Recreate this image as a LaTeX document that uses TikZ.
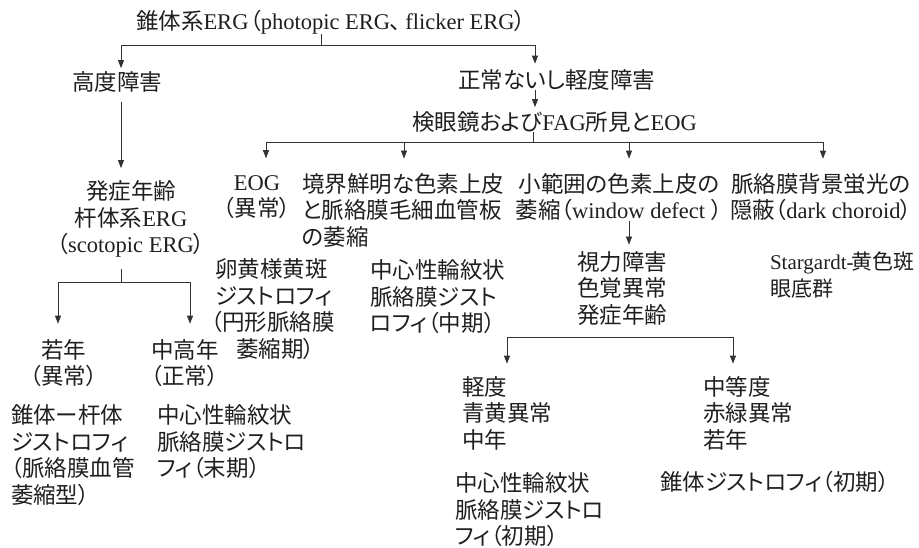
\documentclass[tikz,border=0pt]{standalone}
\usepackage{fontspec}
\setmainfont{Noto Sans CJK JP}[RawFeature=+palt]
\newfontfamily\latfont{Liberation Serif}
\newcommand\La[1]{{\latfont #1}}
\usetikzlibrary{arrows.meta}
\begin{document}
\begin{tikzpicture}[x=1pt,y=-1pt,
  txt/.style={inner sep=0pt, outer sep=0pt, font=\fontsize{22.5}{26.5}\selectfont, text=black!88},
  lbl/.style={txt, anchor=west, align=left},
  ctr/.style={txt, align=center},
  ln/.style={draw=black!80, line width=0.8pt},
  arr/.style={ln, -{Triangle[length=8pt,width=6pt]}}]
\useasboundingbox (0,0) rectangle (919,547);

% nodes
\node[lbl] (title) at (136,22) {錐体系\La{ERG}\kern1pt（\La{photopic ERG}、\kern4pt\La{flicker ERG}）};
\node[lbl] (koudo) at (72,82) {高度障害};
\node[lbl] (seijou) at (458,80) {正常ないし軽度障害};
\node[lbl] (kengan) at (412,122) {検眼鏡および\La{FAG}所見と\La{EOG}};
\node[ctr] (hassho) at (131,219) {発症年齢\\杆体系\La{ERG}\\（\La{scotopic ERG}）};
\node[ctr] (eog) at (257,197) {\La{EOG}\\（異常）};
\node[lbl] (kyoukai) at (302,210) {境界鮮明な色素上皮\\と脈絡膜毛細血管板\\の萎縮};
\node[ctr] (shohan) at (619,197) {小範囲の色素上皮の\\萎縮（\La{window defect }）};
\node[ctr] (myaku) at (821,197) {脈絡膜背景蛍光の\\隠蔽（\La{dark choroid}）};
\node[lbl] (shiryoku) at (577,288) {視力障害\\色覚異常\\発症年齢};
\node[lbl, font=\fontsize{21}{26.5}\selectfont] (starg) at (770,275) {\La{Stargardt-}\kern-2pt黄色斑\\眼底群};
\node[lbl] (ranou) at (215,309) {卵黄様黄斑\\ジストロフィ\\\hspace*{-4pt}（円形脈絡膜\\\hspace*{21pt}萎縮期）};
\node[lbl] (chushinA) at (370,297) {中心性輪紋状\\脈絡膜ジスト\\ロフィ（中期）};
\node[ctr] (jakunen) at (64,363) {若年\\（異常）};
\node[lbl] (chuukou) at (151,363) {中高年\\（正常）};
\node[lbl] (suitaiA) at (11,455) {錐体ー杆体\\ジストロフィ\\（脈絡膜血管\\萎縮型）};
\node[lbl] (chushinB) at (157,442) {中心性輪紋状\\脈絡膜ジストロ\\フィ（末期）};
\node[lbl] (keido) at (462,413) {軽度\\青黄異常\\中年};
\node[lbl] (chuutou) at (703,413) {中等度\\赤緑異常\\若年};
\node[lbl] (chushinC) at (455,510) {中心性輪紋状\\脈絡膜ジストロ\\フィ（初期）};
\node[lbl] (suitaiB) at (660,482) {錐体ジストロフィ（初期）};

% junctions and column positions
\coordinate (hT) at (321,45);
\coordinate (hK) at (533,142);
\coordinate (hH) at (121,282);
\coordinate (hS) at (620,337);
\coordinate (xM) at (535,0);
\coordinate (xE) at (266,0);
\coordinate (xB) at (404,0);
\coordinate (xW) at (629,0);
\coordinate (xD) at (823,0);
\coordinate (xJ) at (58,0);
\coordinate (xC) at (190,0);
\coordinate (xK) at (507,0);
\coordinate (xU) at (733,0);

% connectors
\draw[ln] (title.south -| hT) -- (hT);
\draw[arr, shorten >=3.5pt] (hT) -| (koudo.north -| hH);
\draw[arr, shorten >=6pt] (hT) -| (seijou.north -| xM);
\draw[arr, shorten >=4.5pt] (seijou.south -| xM) -- (kengan.north -| xM);
\draw[ln] (kengan.south -| hK) -- (hK);
\draw[arr, shorten >=17pt] (hK) -| (eog.north -| xE);
\draw[arr, shorten >=14.5pt] (hK) -| (kyoukai.north -| xB);
\draw[arr, shorten >=14.5pt] (hK) -| (shohan.north -| xW);
\draw[arr, shorten >=14.5pt] (hK) -| (myaku.north -| xD);
\draw[arr, shorten <=10pt, shorten >=12.5pt] (koudo.south -| hH) -- (hassho.north -| hH);
\draw[ln, shorten <=12pt] (hassho.south -| hH) -- (hH);
\draw[arr, shorten >=15.5pt] (hH) -| (jakunen.north -| xJ);
\draw[arr, shorten >=15.5pt] (hH) -| (chuukou.north -| xC);
\draw[arr, shorten >=6.5pt] (shohan.south -| xW) -- (shiryoku.north -| xW);
\draw[arr, shorten >=12.5pt] (hS) -| (keido.north -| xK);
\draw[arr, shorten >=12.5pt] (hS) -| (chuutou.north -| xU);
\end{tikzpicture}
\end{document}
